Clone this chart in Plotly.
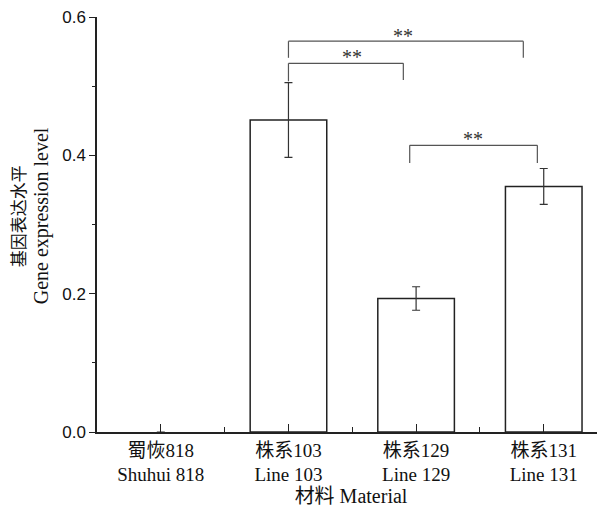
import plotly.graph_objects as go

categories = ["蜀恢818<br>Shuhui 818", "株系103<br>Line 103", "株系129<br>Line 129", "株系131<br>Line 131"]
values = [0.0, 0.451, 0.193, 0.355]
errors = [0.0, 0.054, 0.017, 0.026]
y_ticks = [0.0, 0.2, 0.4, 0.6]
# significance brackets: (x_left, x_right, y_top, y_left_end, y_right_end, label, label_x, label_y)
brackets = [
    (1.0, 2.84, 0.565, 0.541, 0.541, "**", 1.90, 0.577),
    (1.0, 1.90, 0.533, 0.507, 0.509, "**", 1.50, 0.5465),
    (1.95, 2.95, 0.4145, 0.389, 0.389, "**", 2.445, 0.4284),
]

xpos = list(range(len(categories)))

fig = go.Figure()
fig.add_trace(go.Bar(
    x=xpos, y=values, width=0.6,
    marker=dict(color="white", line=dict(color="#222", width=[0 if v == 0 else 1.5 for v in values])),
    error_y=dict(type="data", array=errors, visible=True, color="#333", thickness=1.2, width=4),
    showlegend=False,
))

shapes = []
annotations = []
for xl, xr, yt, yl, yr, lab, lx, ly in brackets:
    for (x0, y0, x1, y1) in [(xl, yl, xl, yt), (xl, yt, xr, yt), (xr, yt, xr, yr)]:
        shapes.append(dict(type="line", xref="x", yref="y", x0=x0, y0=y0, x1=x1, y1=y1,
                           line=dict(color="#555", width=1.2)))
    annotations.append(dict(x=lx, y=ly, xref="x", yref="y", text=lab, showarrow=False,
                            yanchor="middle", yshift=-3,
                            font=dict(family="Liberation Serif", size=20, color="#333")))

# plot width in px = 597 - 89 = 508
annotations.append(dict(x=-(97 - 19) / 508, y=0.52, xref="paper", yref="paper", text="基因表达水平",
                        textangle=-90, showarrow=False, xanchor="center", yanchor="middle",
                        font=dict(family="Liberation Serif, Noto Sans CJK SC", size=17, color="#111")))
annotations.append(dict(x=-(97 - 41) / 508, y=0.52, xref="paper", yref="paper", text="Gene expression level",
                        textangle=-90, showarrow=False, xanchor="center", yanchor="middle",
                        font=dict(family="Liberation Serif", size=20, color="#111")))

fig.update_layout(
    width=597, height=507,
    margin=dict(l=89, r=0, t=9, b=83),
    paper_bgcolor="white", plot_bgcolor="white",
    shapes=shapes, annotations=annotations,
    xaxis=dict(
        range=[-0.5, 3.48], tickvals=xpos, ticktext=categories,
        showline=True, linecolor="#222", linewidth=1.5,
        ticks="inside", ticklen=8, tickcolor="#222", tickwidth=1.2,
        minor=dict(tickvals=[0.5, 1.5, 2.5], ticks="inside", ticklen=5, tickcolor="#222", tickwidth=1.2),
        tickfont=dict(family="Liberation Serif, Noto Sans CJK SC", size=19, color="#111"),
        title=dict(text="材料 Material", standoff=4,
                   font=dict(family="Liberation Serif, Noto Sans CJK SC", size=20, color="#111")),
        showgrid=False, zeroline=False,
    ),
    yaxis=dict(
        range=[0, 0.6], tickvals=y_ticks, ticktext=[f"{v:.1f}" for v in y_ticks],
        ticklabeloverflow="allow",
        showline=True, linecolor="#222", linewidth=1.5,
        ticks="outside", ticklen=6, tickcolor="#222", tickwidth=1.2,
        minor=dict(tickvals=[0.1, 0.3, 0.5], ticks="outside", ticklen=3, tickcolor="#222", tickwidth=1.2),
        tickfont=dict(family="Liberation Sans", size=17, color="#111"),
        showgrid=False, zeroline=False,
    ),
)

fig.write_html("out.html")
